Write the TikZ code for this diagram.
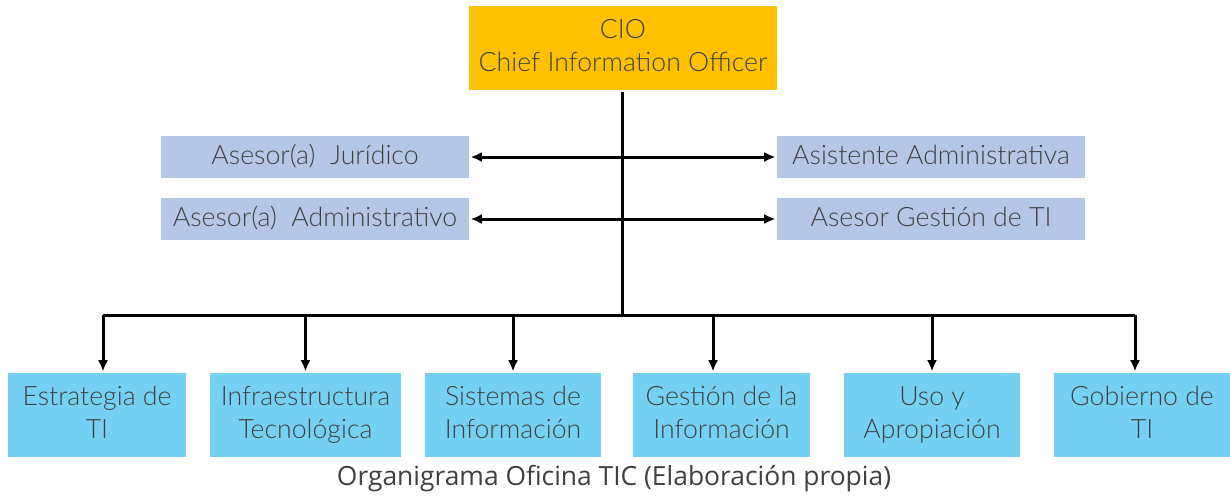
\documentclass[tikz,border=0pt]{standalone}
\usepackage{fontspec}
\setmainfont{Lato Light}
\newfontfamily\capfont{Open Sans}
\usetikzlibrary{arrows.meta}

\tikzset{every picture/.style={line width=2.25pt}}
\tikzset{
  unit/.style={inner sep=0pt, align=center, text={rgb,255:red,64;green,64;blue,64}, font=\fontsize{20}{25}\selectfont, execute at end node={\vphantom{gp}}},
  cio/.style={unit, fill={rgb,255:red,255;green,192;blue,0}, minimum width=231pt, minimum height=63pt},
  staff/.style={unit, fill={rgb,255:red,180;green,199;blue,231}, minimum width=231pt, minimum height=31.5pt},
  area/.style={unit, fill={rgb,255:red,117;green,209;blue,243}, minimum height=63pt},
  link/.style={-{Latex[length=8.5pt,width=7.5pt]}},
  both/.style={{Latex[length=8.5pt,width=7.5pt]}-{Latex[length=8.5pt,width=7.5pt]}},
}

\begin{document}
\begin{tikzpicture}[x=0.75pt,y=0.75pt,yscale=-1]
\useasboundingbox (0,0) rectangle (1230,496);

%Shape: Rectangle [id:cio]
\node [cio] (cio) at (623,48) {CIO\\Chief Information Officer};

%Shape: Rectangle [id:staff]
\node [staff] (jur) at (315,157) {Asesor(a)\ \ Jurídico};
\node [staff] (adm) at (315,219) {Asesor(a)\ \ Administrativo};
\node [staff] (asis) at (931,157) {Asistente Administrativa};
\node [staff] (gti) at (931,219) {Asesor Gestión de TI};

%Shape: Rectangle [id:areas]
\node [area, minimum width=133.5pt] (est) at (97,415) {Estrategia de\\TI};
\node [area, minimum width=143.25pt] (inf) at (305.5,415) {Infraestructura\\Tecnológica};
\node [area, minimum width=132pt] (sis) at (513,415) {Sistemas de\\Información};
\node [area, minimum width=132.75pt] (gin) at (721.5,415) {Gestión de la\\Información};
\node [area, minimum width=132pt] (uso) at (932,415) {Uso y\\Apropiación};
\node [area, minimum width=132pt] (gob) at (1142,415) {Gobierno de\\TI};

%Straight Lines [id:bus]
\coordinate (bus) at (622,315);
\coordinate (busL) at (103,315);
\coordinate (busR) at (1135,315);
\coordinate (tapG) at (713,315);
\draw (cio.south -| bus) -- (bus);
\draw (busL) -- (busR);

%Straight Lines [id:staff links]
\draw [both] (jur.east) -- (asis.west);
\draw [both] (adm.east) -- (gti.west);

%Straight Lines [id:area links]
\draw [link] (busL) -- (busL |- est.north);
\draw [link] (inf.north |- bus) -- (inf.north);
\draw [link] (sis.north |- bus) -- (sis.north);
\draw [link] (tapG) -- (tapG |- gin.north);
\draw [link] (uso.north |- bus) -- (uso.north);
\draw [link] (busR) -- (busR |- gob.north);

% Text Node
\node [font=\capfont\fontsize{19.8}{23}\selectfont, text={rgb,255:red,64;green,64;blue,64}] (cap) at (614,479) {Organigrama Oficina TIC (Elaboración propia)};

\end{tikzpicture}
\end{document}
